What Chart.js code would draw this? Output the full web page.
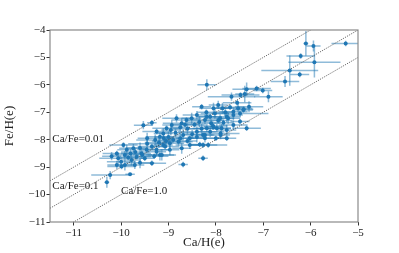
<!DOCTYPE html>
<html lang="en">
<head>
    <meta charset="UTF-8">
    <title>Fe/H vs Ca/H</title>
    <script src="https://cdn.jsdelivr.net/npm/chart.js"></script>
    <style>
        html, body { margin: 0; padding: 0; background: #fff; }
        #wrap { width: 399px; height: 253px; }
    </style>
</head>
<body>
    <div id="wrap"><canvas id="chart" width="399" height="253"></canvas></div>

    <script>
        // log abundances
        const caH = [-6.10, -5.94, -5.26, -6.21, -5.92, -6.44, -6.23, -6.54, -8.19, -7.14,
            -7.01, -7.35, -6.89, -7.48, -7.39, -7.67, -7.30, -7.41, -7.53, -7.70,
            -7.86, -7.63, -7.49, -7.77, -7.84, -7.88, -7.90, -8.30, -8.05, -7.95,
            -7.42, -7.74, -8.06, -8.19, -7.63, -7.91, -8.02, -8.12, -8.23, -8.40,
            -8.51, -8.62, -8.72, -8.83, -8.93, -9.04, -9.11, -9.18, -9.28, -9.35,
            -7.63, -7.49, -7.35, -7.77, -7.98, -8.12, -8.27, -8.40, -8.55, -8.69,
            -8.79, -8.97, -9.11, -9.25, -8.23, -7.77, -8.16, -8.34, -8.55, -8.72,
            -8.27, -9.18, -8.69, -9.35, -10.30, -10.23, -10.09, -9.99, -9.92, -9.81,
            -10.06, -9.92, -9.78, -9.67, -9.57, -10.09, -9.88, -9.74, -9.46, -9.25,
            -9.14, -9.50, -9.60, -9.71, -9.07, -8.97, -9.95, -9.53, -9.35, -8.27,
            -7.90, -8.05, -8.19, -8.23, -10.20, -9.00, -8.85, -8.60, -8.45, -8.35,
            -8.90, -9.05, -8.75, -8.50, -8.65, -8.95, -9.20, -9.45, -9.60, -9.80,
            -9.30, -8.40, -8.10, -7.95, -8.30, -8.60, -9.10, -9.70, -9.45, -9.25,
            -8.75, -8.20, -7.55, -7.80, -8.00, -10.00, -9.85, -9.55];
        const feH = [-4.49, -4.58, -4.49, -4.95, -5.18, -5.48, -5.62, -5.88, -6.00, -6.13,
            -6.21, -6.16, -6.43, -6.37, -6.33, -6.43, -6.80, -6.89, -6.85, -6.82,
            -6.85, -6.98, -7.04, -7.16, -7.38, -7.58, -7.77, -6.80, -6.85, -6.73,
            -6.92, -7.22, -7.50, -7.16, -7.10, -7.22, -7.04, -7.16, -7.28, -7.10,
            -7.22, -7.28, -7.40, -7.22, -7.46, -7.58, -7.77, -7.89, -8.01, -8.25,
            -7.46, -7.34, -7.58, -7.65, -7.58, -7.71, -7.83, -7.71, -7.95, -7.83,
            -8.07, -8.13, -8.19, -8.37, -7.95, -7.95, -8.19, -8.17, -8.19, -8.31,
            -8.68, -8.56, -8.90, -8.86, -9.55, -9.29, -8.92, -8.98, -8.92, -9.26,
            -8.68, -8.56, -8.74, -8.62, -8.50, -8.50, -8.37, -8.31, -8.37, -8.44,
            -8.56, -8.68, -8.84, -8.92, -8.25, -8.37, -8.19, -7.47, -7.38, -8.19,
            -7.83, -7.53, -7.58, -7.83, -8.60, -7.90, -7.75, -7.60, -7.45, -7.35,
            -8.00, -8.05, -7.95, -7.80, -7.45, -7.65, -8.10, -8.15, -8.30, -8.50,
            -8.60, -7.90, -7.40, -7.30, -7.60, -8.05, -7.95, -8.45, -7.95, -7.70,
            -7.55, -7.00, -6.65, -7.00, -7.95, -8.80, -8.65, -8.55];
        const caErr = [0.05, 0.15, 0.30, 0.30, 0.55, 0.60, 0.20, 0.30, 0.20, 0.30,
            0.20, 0.30, 0.30, 0.40, 0.20, 0.50, 0.30, 0.20, 0.30, 0.30,
            0.20, 0.30, 0.60, 0.30, 0.20, 0.20, 0.40, 0.20, 0.30, 0.20,
            0.20, 0.25, 0.30, 0.20, 0.20, 0.30, 0.30, 0.25, 0.40, 0.30,
            0.20, 0.30, 0.40, 0.30, 0.20, 0.30, 0.20, 0.30, 0.40, 0.30,
            0.30, 0.20, 0.30, 0.20, 0.30, 0.30, 0.20, 0.40, 0.30, 0.20,
            0.30, 0.30, 0.20, 0.30, 0.30, 0.20, 0.40, 0.20, 0.30, 0.20,
            0.10, 0.30, 0.10, 0.30, 0.05, 0.40, 0.20, 0.30, 0.20, 0.10,
            0.40, 0.30, 0.20, 0.30, 0.20, 0.30, 0.20, 0.30, 0.20, 0.20,
            0.30, 0.20, 0.30, 0.20, 0.30, 0.20, 0.30, 0.20, 0.10, 0.30,
            0.20, 0.20, 0.30, 0.20, 0.20, 0.30, 0.40, 0.30, 0.20, 0.30,
            0.20, 0.30, 0.30, 0.20, 0.30, 0.20, 0.30, 0.40, 0.30, 0.20,
            0.30, 0.20, 0.20, 0.30, 0.30, 0.20, 0.20, 0.30, 0.20, 0.30,
            0.20, 0.20, 0.30, 0.20, 0.20, 0.30, 0.20, 0.20];
        const feErr = [0.45, 0.20, 0.10, 0.10, 0.55, 0.55, 0.10, 0.20, 0.20, 0.10,
            0.10, 0.25, 0.20, 0.10, 0.30, 0.15, 0.20, 0.10, 0.15, 0.10,
            0.20, 0.15, 0.10, 0.20, 0.10, 0.15, 0.10, 0.10, 0.20, 0.15,
            0.10, 0.20, 0.15, 0.10, 0.20, 0.15, 0.20, 0.10, 0.20, 0.15,
            0.20, 0.10, 0.20, 0.15, 0.20, 0.10, 0.20, 0.15, 0.20, 0.10,
            0.15, 0.10, 0.10, 0.20, 0.15, 0.20, 0.10, 0.20, 0.10, 0.20,
            0.15, 0.20, 0.10, 0.20, 0.15, 0.10, 0.10, 0.10, 0.15, 0.20,
            0.10, 0.20, 0.10, 0.10, 0.20, 0.15, 0.15, 0.10, 0.20, 0.05,
            0.20, 0.15, 0.20, 0.10, 0.20, 0.10, 0.20, 0.15, 0.10, 0.15,
            0.20, 0.10, 0.20, 0.15, 0.10, 0.20, 0.10, 0.15, 0.10, 0.10,
            0.15, 0.10, 0.15, 0.10, 0.15, 0.20, 0.15, 0.20, 0.10, 0.20,
            0.10, 0.15, 0.20, 0.15, 0.10, 0.20, 0.20, 0.15, 0.20, 0.15,
            0.10, 0.20, 0.15, 0.10, 0.20, 0.10, 0.15, 0.10, 0.20, 0.10,
            0.15, 0.10, 0.10, 0.15, 0.10, 0.20, 0.10, 0.15];

        // constant abundance ratio lines
        const ratioValues = [0.01, 0.1, 1.0];
        const ratioLabels = ['Ca/Fe=0.01', 'Ca/Fe=0.1', 'Ca/Fe=1.0'];

        const xTicks = [-11, -10, -9, -8, -7, -6, -5];
        const yTicks = [-11, -10, -9, -8, -7, -6, -5, -4];

        const xMin = -11.5, xMax = -5, yMin = -11, yMax = -4;
        const serif = "'Liberation Serif', 'DejaVu Serif', serif";
        const minus = v => String(v).replace('-', '\u2212');

        // where the ratio labels sit (data units)
        const labelAnchors = [[-11.45, -7.99], [-11.45, -9.68], [-10.0, -9.87]];

        const points = caH.map((x, i) => ({ x, y: feH[i], xe: caErr[i], ye: feErr[i] }));

        const ratioSets = ratioValues.map(r => ({
            type: 'line',
            data: [xMin, xMax].map(x => ({ x, y: x - Math.log10(r) })),
            borderColor: '#444',
            borderWidth: 0.8,
            borderDash: [1.2, 1.2],
            pointRadius: 0,
            fill: false,
            order: 2
        }));

        // error bars behind the markers
        const errorBars = {
            id: 'errorBars',
            beforeDatasetsDraw(chart) {
                const { ctx, chartArea: a, scales: { x, y } } = chart;
                ctx.save();
                ctx.beginPath();
                ctx.rect(a.left, a.top, a.right - a.left, a.bottom - a.top);
                ctx.clip();
                ctx.strokeStyle = 'rgba(31,119,180,0.5)';
                ctx.lineWidth = 1.5;
                points.forEach(p => {
                    const px = x.getPixelForValue(p.x), py = y.getPixelForValue(p.y);
                    ctx.beginPath();
                    ctx.moveTo(x.getPixelForValue(p.x - p.xe), py);
                    ctx.lineTo(x.getPixelForValue(p.x + p.xe), py);
                    ctx.moveTo(px, y.getPixelForValue(p.y - p.ye));
                    ctx.lineTo(px, y.getPixelForValue(p.y + p.ye));
                    ctx.stroke();
                });
                ctx.restore();
            }
        };

        const frameAndLabels = {
            id: 'frameAndLabels',
            afterDraw(chart) {
                const { ctx, chartArea: a, scales: { x, y } } = chart;
                ctx.save();
                ctx.strokeStyle = '#8a8a8a';
                ctx.lineWidth = 1.2;
                ctx.strokeRect(a.left, a.top, a.right - a.left, a.bottom - a.top);
                ctx.fillStyle = '#222';
                ctx.font = '11px ' + serif;
                ctx.textBaseline = 'middle';
                ratioLabels.forEach((t, i) => {
                    ctx.fillText(t, x.getPixelForValue(labelAnchors[i][0]), y.getPixelForValue(labelAnchors[i][1]));
                });
                ctx.restore();
            }
        };

        new Chart(document.getElementById('chart').getContext('2d'), {
            type: 'scatter',
            data: {
                datasets: [
                    {
                        data: points,
                        backgroundColor: '#1f77b4',
                        borderColor: '#1f77b4',
                        pointRadius: 2,
                        borderWidth: 0,
                        order: 1
                    },
                    ...ratioSets
                ]
            },
            options: {
                responsive: false,
                animation: false,
                layout: { padding: { top: 30, right: 41, left: 0, bottom: 0 } },
                plugins: {
                    legend: { display: false },
                    tooltip: { enabled: false }
                },
                scales: {
                    x: {
                        type: 'linear',
                        min: xMin,
                        max: xMax,
                        afterBuildTicks: s => { s.ticks = xTicks.map(value => ({ value })); },
                        afterFit: s => { s.height = 31; },
                        grid: { drawOnChartArea: false, drawTicks: true, tickLength: 3.5, color: '#333' },
                        border: { display: false },
                        ticks: {
                            padding: 1,
                            color: '#222',
                            font: { family: serif, size: 11 },
                            callback: v => minus(v)
                        },
                        title: {
                            display: true,
                            text: 'Ca/H(e)',
                            color: '#222',
                            font: { family: serif, size: 13 },
                            padding: { top: 0, bottom: 3 }
                        }
                    },
                    y: {
                        type: 'linear',
                        min: yMin,
                        max: yMax,
                        afterBuildTicks: s => { s.ticks = yTicks.map(value => ({ value })); },
                        afterFit: s => { s.width = 50; },
                        grid: { drawOnChartArea: false, drawTicks: true, tickLength: 3.5, color: '#333' },
                        border: { display: false },
                        ticks: {
                            padding: 1,
                            color: '#222',
                            font: { family: serif, size: 11 },
                            callback: v => minus(v)
                        },
                        title: {
                            display: true,
                            text: 'Fe/H(e)',
                            color: '#222',
                            font: { family: serif, size: 13 },
                            padding: { top: 2, bottom: 0 }
                        }
                    }
                }
            },
            plugins: [errorBars, frameAndLabels]
        });
    </script>
</body>
</html>
